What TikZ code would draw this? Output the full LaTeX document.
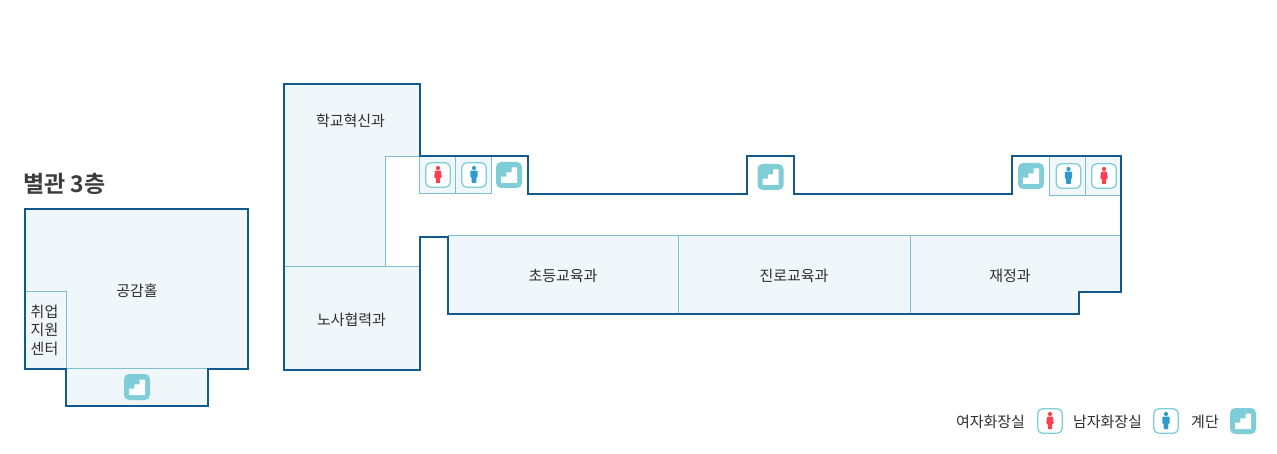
\documentclass[tikz,border=0pt]{standalone}
\usepackage{fontspec}
\setmainfont{Noto Sans CJK KR}
\newfontfamily\boldkr{Noto Sans CJK KR Bold}
\definecolor{wallc}{HTML}{12598F}
\definecolor{thinc}{HTML}{7FBDD3}
\definecolor{roomc}{HTML}{F0F7FA}
\definecolor{iconc}{HTML}{7FCDD6}
\definecolor{redc}{HTML}{F9414F}
\definecolor{bluec}{HTML}{2E9BCB}
\definecolor{textc}{HTML}{2E2E2E}
\definecolor{titlec}{HTML}{3C3C3C}
\tikzset{
  wall/.style={draw=wallc,line width=2.6pt,line join=miter},
  partition/.style={draw=thinc,line width=1pt},
  roomfill/.style={fill=roomc,draw=none},
  label/.style={text=textc,font=\fontsize{15}{18.5}\selectfont,inner sep=0pt,align=center},
  title/.style={text=titlec,font=\boldkr\fontsize{23}{27}\selectfont,inner sep=0pt,anchor=west},
  stairsicon/.pic={
    \fill[iconc,rounded corners=5pt] (-13,-13) rectangle (13,13);
    \fill[white] (-8,8) -- (-8,1.7) -- (-2.7,1.7) -- (-2.7,-2.7) -- (2.7,-2.7) -- (2.7,-7.5) -- (8,-7.5) -- (8,8) -- cycle;
  },
  womanicon/.pic={
    \draw[iconc,fill=white,line width=1.3pt,rounded corners=5pt] (-12.3,-12.3) rectangle (12.3,12.3);
    \fill[redc] (0,-7) circle (2.1);
    \fill[redc,rounded corners=.6pt] (-3,-4.3) -- (3,-4.3) -- (3.8,2.8) -- (2.2,2.8) -- (2.2,8) -- (-2.2,8) -- (-2.2,2.8) -- (-3.8,2.8) -- cycle;
  },
  manicon/.pic={
    \draw[iconc,fill=white,line width=1.3pt,rounded corners=5pt] (-12.3,-12.3) rectangle (12.3,12.3);
    \fill[bluec] (0,-7) circle (2.1);
    \fill[bluec,rounded corners=.6pt] (-3.7,-4.3) -- (3.7,-4.3) -- (3.7,2.5) -- (2.3,2.5) -- (2.3,8) -- (-2.3,8) -- (-2.3,2.5) -- (-3.7,2.5) -- cycle;
  },
}
\begin{document}
\begin{tikzpicture}[x=1pt,y=-1pt]
\useasboundingbox (0,0) rectangle (1277,454);
% annex
\path[roomfill] (25,209) -- (248,209) -- (248,369) -- (208,369) -- (208,406) -- (66,406) -- (66,369) -- (25,369) -- cycle;
\draw[partition] (25,292) -- (66.5,292) -- (66.5,369);
\draw[partition] (66,368.5) -- (208,368.5);
\draw[wall] (25,209) -- (248,209) -- (248,369) -- (208,369) -- (208,406) -- (66,406) -- (66,369) -- (25,369) -- cycle;
% main building fills
\path[roomfill] (284,84) rectangle (420,156);
\path[roomfill] (284,156) rectangle (386,266);
\path[roomfill] (284,266) rectangle (420,370);
\path[roomfill] (420,156) rectangle (491,193);
\path[roomfill] (1049,156) rectangle (1121,195);
\path[roomfill] (448,236) -- (1121,236) -- (1121,292) -- (1079,292) -- (1079,314) -- (448,314) -- cycle;
% partitions
\draw[partition] (420,156.5) -- (385.5,156.5) -- (385.5,266);
\draw[partition] (284,266.5) -- (420,266.5);
\draw[partition] (419.5,156) -- (419.5,193.5) -- (491.5,193.5) -- (491.5,156);
\draw[partition] (455.5,156) -- (455.5,193);
\draw[partition] (448,235.5) -- (1121,235.5);
\draw[partition] (678.5,236) -- (678.5,314);
\draw[partition] (910.5,236) -- (910.5,314);
\draw[partition] (1049.5,156) -- (1049.5,195.5) -- (1121,195.5);
\draw[partition] (1085.5,156) -- (1085.5,195);
% main outline
\draw[wall] (284,84) -- (420,84) -- (420,156) -- (528,156) -- (528,194) -- (747,194) -- (747,156) -- (794,156) -- (794,194) -- (1012,194) -- (1012,156) -- (1121,156) -- (1121,292) -- (1079,292) -- (1079,314) -- (448,314) -- (448,237) -- (420,237) -- (420,370) -- (284,370) -- cycle;
% icons
\pic at (137,387) {stairsicon};
\pic at (438,175) {womanicon};
\pic at (474,175) {manicon};
\pic at (509,175) {stairsicon};
\pic at (770.5,177) {stairsicon};
\pic at (1031,176) {stairsicon};
\pic at (1068.5,176) {manicon};
\pic at (1104,176) {womanicon};
\pic at (1050,421) {womanicon};
\pic at (1166,421) {manicon};
\pic at (1243,421) {stairsicon};
% texts
\node[title] (annextitle) at (23,183.5) {별관 3층};
\node[label] (hall) at (137,291.2) {공감홀};
\node[label] (jobs) at (44.5,330) {취업\\지원\\센터};
\node[label] (innov) at (350.5,121.2) {학교혁신과};
\node[label] (labor) at (351.5,320.2) {노사협력과};
\node[label] (elem) at (563,276.2) {초등교육과};
\node[label] (career) at (794,276.2) {진로교육과};
\node[label] (finance) at (1010,276.2) {재정과};
\node[label] (lw) at (990.5,422.2) {여자화장실};
\node[label] (lm) at (1107.5,422.2) {남자화장실};
\node[label] (ls) at (1205,422.2) {계단};
\end{tikzpicture}
\end{document}
